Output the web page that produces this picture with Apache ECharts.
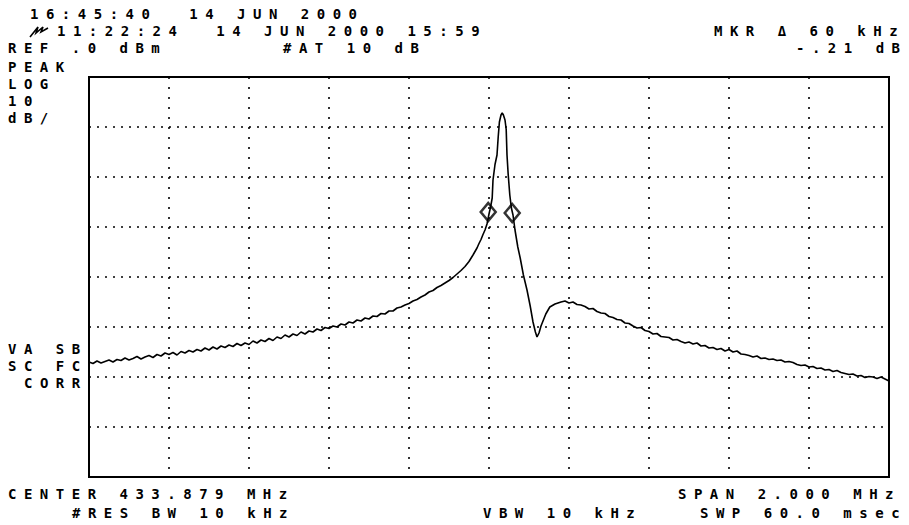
<!DOCTYPE html>
<html>
<head>
<meta charset="utf-8">
<script src="https://cdn.jsdelivr.net/npm/echarts@6/dist/echarts.min.js"></script>
<style>
  html, body { margin: 0; padding: 0; background: #fff; }
  #main { width: 909px; height: 525px; }
  #main text { letter-spacing: 7.5px; }
</style>
</head>
<body>
<div id="main"></div>
<script>
// Frequency offset from center (kHz); center 433.879 MHz, span 2.000 MHz
const leftKHz = [
  -1000,-990,-980,-970,-960,-950,-940,-930,-920,-910,-900,-890,-880,-870,-860,-850,-840,-830,-820,-810,
  -800,-790,-780,-770,-760,-750,-740,-730,-720,-710,-700,-690,-680,-670,-660,-650,-640,-630,-620,-610,
  -600,-590,-580,-570,-560,-550,-540,-530,-520,-510,-500,-490,-480,-470,-460,-450,-440,-430,-420,-410,
  -400,-390,-380,-370,-360,-350,-340,-330,-320,-310,-300,-290,-280,-270,-260,-250,-240,-230,-220,-210,
  -200,-190,-180,-170,-160,-150,-140,-130,-120,-110,-100,-90,-80,-70,-60,-50,-40,-30,-25,-20,-15,-10,-5
];
const leftDbm = [
  -57.0,-57.3,-56.8,-57.2,-56.9,-56.6,-57.0,-56.5,-56.7,-56.2,-56.6,-56.3,-55.9,-56.4,-56.0,-55.7,-56.1,-55.5,-55.8,-55.2,
  -55.5,-55.1,-55.6,-54.9,-55.2,-54.7,-55.0,-54.5,-54.8,-54.2,-54.6,-54.0,-54.4,-53.8,-54.1,-53.6,-53.9,-53.3,-53.7,-53.2,
  -53.5,-52.8,-53.2,-52.6,-52.9,-52.3,-52.7,-52.0,-52.3,-51.6,-52.0,-51.4,-51.7,-51.0,-51.4,-50.8,-51.0,-50.4,-50.7,-50.1,
  -50.3,-49.8,-50.0,-49.4,-49.6,-49.0,-49.2,-48.6,-48.8,-48.2,-48.4,-47.8,-47.9,-47.3,-47.4,-46.8,-46.8,-46.2,-46.0,-45.6,
  -45.3,-44.8,-44.5,-44.0,-43.6,-43.0,-42.7,-42.1,-41.7,-41.2,-40.7,-40.1,-39.4,-38.7,-37.9,-36.9,-35.6,-34.2,-33.3,-32.5,-31.5,-30.6,-29.4
];
const peakKHz = [
  0,4,8,10,15,20,23,26,30,33,36,40,43,45,48,52,56,60,65,72,78,86,95,103,110,116,120,125,130,135,142,152,165,180,190
];
const peakDbm = [
  -27.4,-26.0,-24.2,-20.6,-17.5,-15.6,-12.0,-9.0,-7.6,-7.2,-7.6,-8.6,-10.5,-15.6,-19.5,-23.6,-26.2,-27.6,-30.6,-34.0,
  -36.2,-39.6,-42.6,-45.8,-49.0,-51.0,-52.0,-51.2,-49.8,-48.8,-47.4,-46.0,-45.4,-45.0,-44.8
];
const rightKHz = [
  200,210,220,230,240,250,260,270,280,290,300,310,320,330,340,350,360,370,380,390,
  400,410,420,430,440,450,460,470,480,490,500,510,520,530,540,550,560,570,580,590,
  600,610,620,630,640,650,660,670,680,690,700,710,720,730,740,750,760,770,780,790,
  800,810,820,830,840,850,860,870,880,890,900,910,920,930,940,950,960,970,980,990,1000
];
const rightDbm = [
  -45.2,-45.0,-45.5,-45.6,-45.9,-46.4,-46.3,-46.9,-47.2,-47.3,-47.9,-48.1,-48.5,-48.6,-49.2,-49.3,-49.8,-50.2,-50.1,-50.7,
  -50.9,-51.4,-51.3,-51.9,-52.0,-52.1,-52.6,-52.5,-52.9,-53.2,-53.0,-53.4,-53.2,-53.8,-53.7,-54.2,-54.1,-54.5,-54.3,-54.8,
  -54.5,-55.0,-54.8,-55.4,-55.5,-55.7,-56.0,-55.8,-56.3,-56.2,-56.5,-56.4,-56.7,-56.6,-57.0,-56.9,-57.1,-57.5,-57.7,-57.6,
  -58.0,-57.9,-58.3,-58.2,-58.6,-58.5,-58.9,-58.7,-59.1,-59.3,-59.5,-59.4,-59.8,-59.7,-60.1,-59.9,-60.0,-60.3,-60.0,-60.4,-60.8
];
const markerKHz = [-2, 58];
const markerDbm = [-27.0, -27.2];

const xTicks = { min: -1000, max: 1000, interval: 200 };
const yTicks = { min: -80, max: 0, interval: 10 };

const traceKHz = leftKHz.concat(peakKHz, rightKHz);
const traceDbm = leftDbm.concat(peakDbm, rightDbm);

const FONT = 'bold 14px "DejaVu Sans Mono"';
function txt(s, x, y) {
  return { type: 'text', x: x, y: y, silent: true,
    style: { text: s, fill: '#000', font: FONT, lineHeight: 14, textAlign: 'left', textVerticalAlign: 'middle' } };
}

const chart = echarts.init(document.getElementById('main'), null, { renderer: 'svg' });
chart.setOption({
  animation: false,
  backgroundColor: '#fff',
  grid: { left: 89, top: 77, width: 800, height: 400, show: true, borderColor: '#000', borderWidth: 2 },
  xAxis: {
    type: 'value', min: xTicks.min, max: xTicks.max, interval: xTicks.interval,
    axisLine: { show: false }, axisTick: { show: false }, axisLabel: { show: false },
    splitLine: { show: true, lineStyle: { color: '#000', type: [2, 8], width: 1.6 } }
  },
  yAxis: {
    type: 'value', min: yTicks.min, max: yTicks.max, interval: yTicks.interval,
    axisLine: { show: false }, axisTick: { show: false }, axisLabel: { show: false },
    splitLine: { show: true, lineStyle: { color: '#000', type: [2, 6], width: 1.6 } }
  },
  series: [
    {
      type: 'line', showSymbol: false, silent: true,
      data: traceKHz.map((k, i) => [k, traceDbm[i]]),
      lineStyle: { color: '#000', width: 1.6 }
    },
    {
      type: 'scatter', symbol: 'diamond', symbolSize: [15, 18], silent: true, z: 5,
      data: markerKHz.map((k, i) => [k, markerDbm[i]]),
      itemStyle: { color: 'rgba(255,255,255,0)', borderColor: '#000', borderWidth: 2.5 }
    }
  ],
  graphic: [
    txt('16:45:40  14 JUN 2000', 30, 14),
    { type: 'polyline', silent: true, shape: { points: [[30,37],[38,27],[36,33],[43,27],[41,32],[48,28]] },
      style: { stroke: '#000', lineWidth: 1.6, fill: null } },
    txt('11:22:24  14 JUN 2000 15:59', 57, 31),
    txt('REF .0 dBm', 8, 48),
    txt('#AT 10 dB', 283, 48),
    txt('MKR Δ 60 kHz', 714, 31),
    txt('-.21 dB', 796, 48),
    txt('PEAK', 8, 67),
    txt('LOG', 8, 84),
    txt('10', 8, 101),
    txt('dB/', 8, 118),
    txt('VA SB', 8, 349),
    txt('SC FC', 8, 366),
    txt('CORR', 24, 383),
    txt('CENTER 433.879 MHz', 8, 494),
    txt('#RES BW 10 kHz', 72, 513),
    txt('VBW 10 kHz', 483, 513),
    txt('SPAN 2.000 MHz', 678, 494),
    txt('SWP 60.0 msec', 700, 513)
  ]
});
</script>
</body>
</html>
